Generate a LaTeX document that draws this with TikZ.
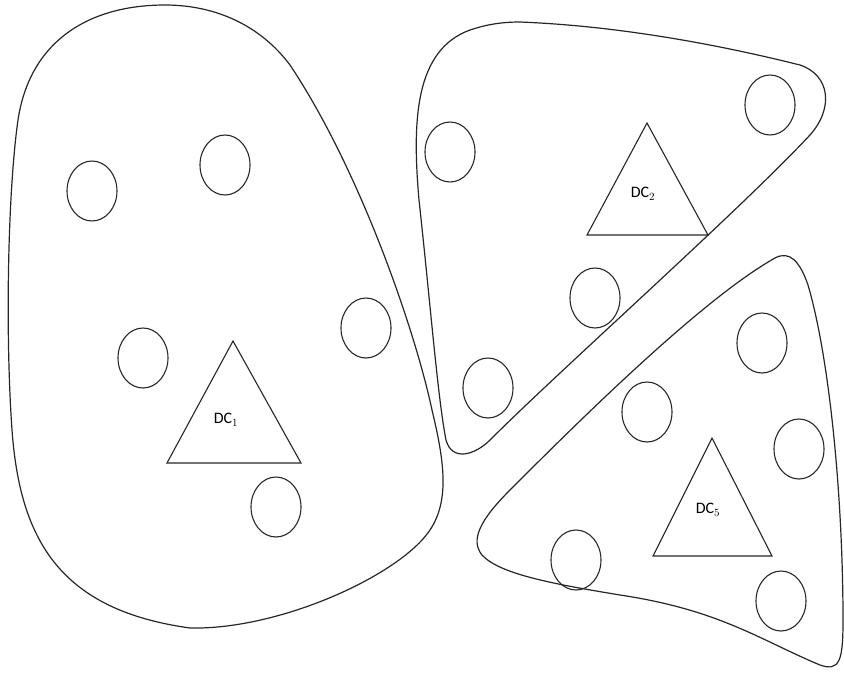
\documentclass[tikz,border=0pt]{standalone}
\usepackage{fontspec}
\setmainfont{Carlito}
\usetikzlibrary{shapes.geometric}
\begin{document}
\begin{tikzpicture}[x=1pt,y=-1pt,
  blob/.style={draw=black!85, line width=1.2pt},
  dev/.style={draw=black!85, line width=1.1pt, ellipse, minimum width=50pt, minimum height=60pt, inner sep=0pt},
  tri/.style={draw=black!85, line width=1.1pt},
  lbl/.style={font=\fontsize{16}{16}\selectfont, inner sep=0pt}]
\useasboundingbox (0,0) rectangle (844,673);
% left cluster
\draw[blob] (165,5) .. controls (90,5) and (30,40) .. (18,120)
  .. controls (8,190) and (5,330) .. (12,430)
  .. controls (20,540) and (60,610) .. (190,628)
  .. controls (280,630) and (400,575) .. (430,530)
  .. controls (450,500) and (444,460) .. (432,410)
  .. controls (415,330) and (360,170) .. (290,65)
  .. controls (260,25) and (215,5) .. (165,5) -- cycle;
% middle cluster
\draw[blob] (520,22) .. controls (620,26) and (720,45) .. (800,65)
  .. controls (830,75) and (834,108) .. (810,135)
  .. controls (740,210) and (560,370) .. (490,440)
  .. controls (475,455) and (452,462) .. (446,440)
  .. controls (438,400) and (430,300) .. (419,200)
  .. controls (412,120) and (415,50) .. (470,30)
  .. controls (485,25) and (500,22) .. (520,22) -- cycle;
% bottom-right cluster
\draw[blob] (775,258) .. controls (790,250) and (800,262) .. (808,285)
  .. controls (830,360) and (843,500) .. (843,620)
  .. controls (843,660) and (840,672) .. (820,665)
  .. controls (760,640) and (720,610) .. (620,595)
  .. controls (560,585) and (500,575) .. (482,555)
  .. controls (470,540) and (480,520) .. (510,490)
  .. controls (570,430) and (700,300) .. (775,258) -- cycle;
% devices
\node[dev] (a1) at (92,191) {};
\node[dev] (a2) at (225,165) {};
\node[dev] (a3) at (143,358) {};
\node[dev] (a4) at (366,328) {};
\node[dev] (a5) at (276,507) {};
\node[dev] (b1) at (450,152) {};
\node[dev] (b2) at (770,105) {};
\node[dev] (b3) at (595,298) {};
\node[dev] (b4) at (488,388) {};
\node[dev] (c1) at (576,560) {};
\node[dev] (c2) at (762,343) {};
\node[dev] (c3) at (647,412) {};
\node[dev] (c4) at (799,449) {};
\node[dev] (c5) at (781,601) {};
% data centres
\draw[tri] (233,341) -- (301,463) -- (167,463) -- cycle;
\node[lbl] (dc1) at (226,420) {DC$_1$};
\draw[tri] (647,123) -- (708,235) -- (587,235) -- cycle;
\node[lbl] (dc2) at (643,194) {DC$_2$};
\draw[tri] (712,438) -- (772,556) -- (653,556) -- cycle;
\node[lbl] (dc3) at (708,510) {DC$_5$};
\end{tikzpicture}
\end{document}
